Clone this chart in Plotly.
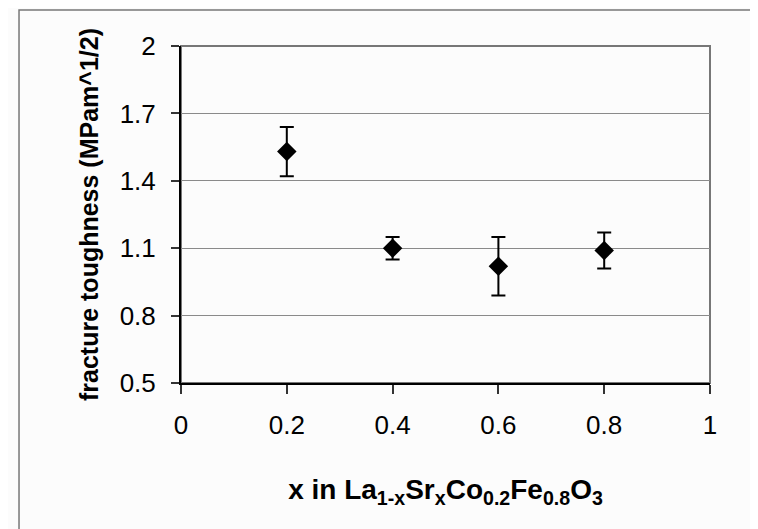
import plotly.graph_objects as go

x_values = [0.2, 0.4, 0.6, 0.8]
toughness = [1.53, 1.10, 1.02, 1.09]
toughness_err = [0.11, 0.05, 0.13, 0.08]
x_ticks = [0, 0.2, 0.4, 0.6, 0.8, 1]
y_ticks = [0.5, 0.8, 1.1, 1.4, 1.7, 2]

fig = go.Figure()
fig.add_trace(go.Scatter(
    x=x_values, y=toughness, mode="markers",
    marker=dict(symbol="diamond", size=15, color="black"),
    error_y=dict(type="data", array=toughness_err, visible=True,
                 color="black", thickness=2, width=7),
    showlegend=False,
))

font_family = "Liberation Sans, Arial, sans-serif"
fig.update_layout(
    width=758, height=529,
    margin=dict(l=173, r=56, t=38, b=154),
    paper_bgcolor="#fcfcfc", plot_bgcolor="#fcfcfc",
    font=dict(family=font_family, size=26, color="black"),
    xaxis=dict(
        range=[0, 1], tickvals=x_ticks, ticktext=[f"{v:g}" for v in x_ticks],
        showgrid=False, zeroline=False, automargin=False,
        showline=True, linecolor="black", linewidth=2,
        ticks="outside", ticklen=9, tickwidth=1.5, tickcolor="#333",
        ticklabelstandoff=9,
        title=dict(text="<b>x in La<sub>1-x</sub>Sr<sub>x</sub>Co<sub>0.2</sub>Fe<sub>0.8</sub>O<sub>3</sub></b>",
                   font=dict(size=28), standoff=40),
    ),
    yaxis=dict(
        range=[0.5, 2], tickvals=y_ticks, ticktext=[f"{v:g}" for v in y_ticks],
        showgrid=True, gridcolor="#8a8a8a", gridwidth=1, zeroline=False, automargin=False,
        showline=True, linecolor="black", linewidth=2,
        ticks="outside", ticklen=8, tickwidth=1.5, tickcolor="#333",
        ticklabelstandoff=10,
        title=dict(text="<b>fracture toughness (MPam^1/2)</b>", font=dict(size=25), standoff=14),
    ),
    shapes=[
        dict(type="rect", xref="paper", yref="paper", x0=0, x1=1, y0=0, y1=1,
             line=dict(color="#777777", width=2), layer="below"),
        dict(type="rect", xref="paper", yref="paper", x0=-0.3062, x1=1.0888, y0=-0.46, y1=1.1068,
             line=dict(color="#777777", width=1.5), layer="below"),
    ],
)

fig.write_html("out.html")
